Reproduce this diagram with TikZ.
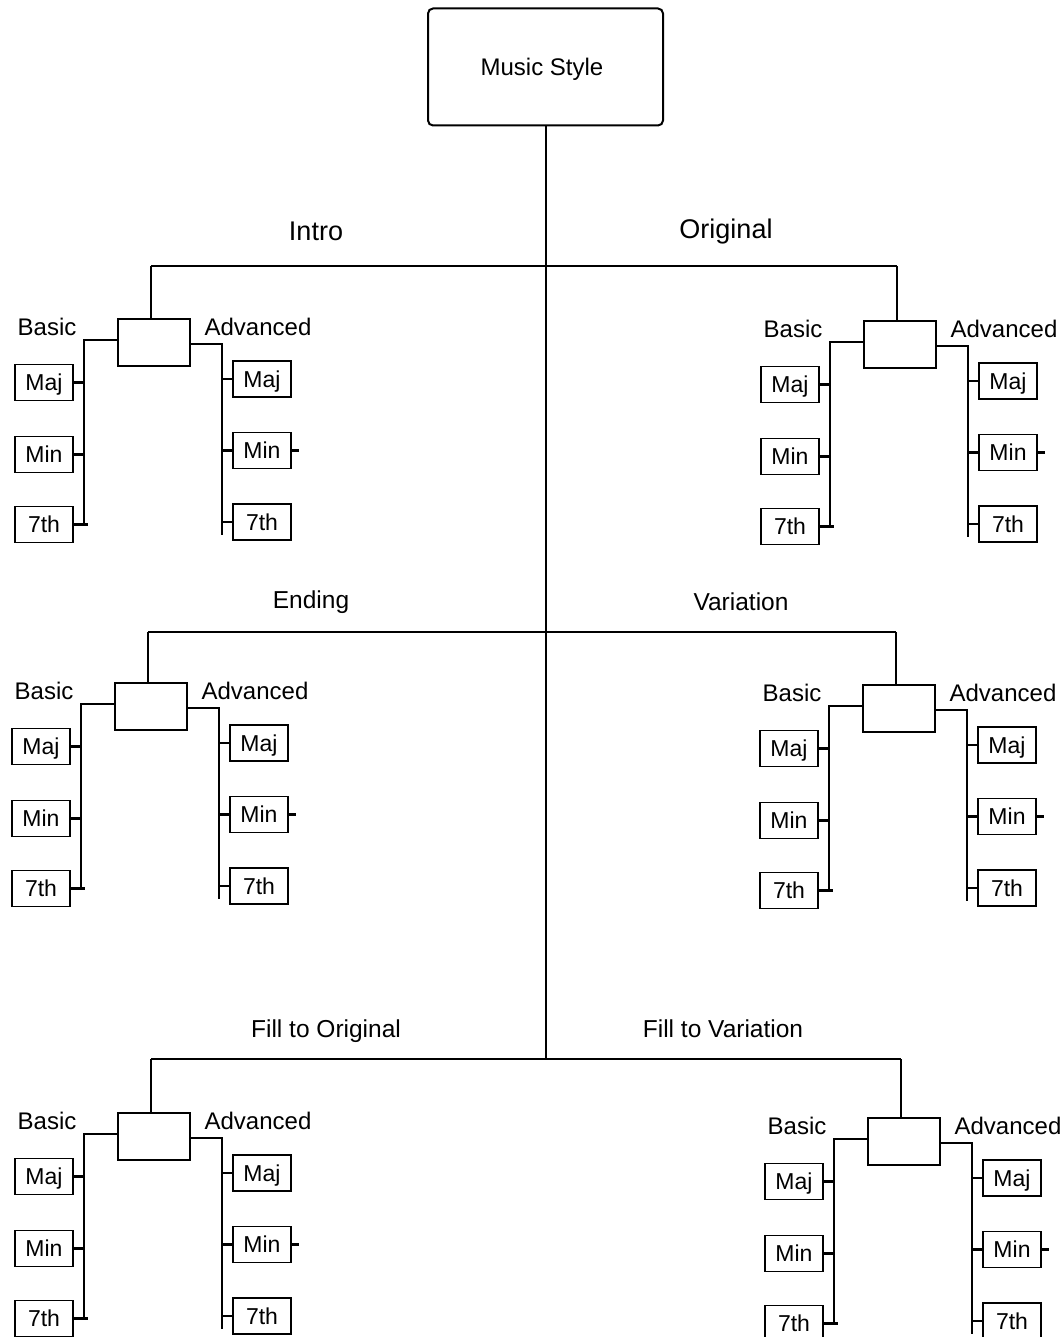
\documentclass[tikz,border=0pt]{standalone}
\usepackage{fontspec}
\setmainfont{Liberation Sans}
\begin{document}
\begin{tikzpicture}[x=1pt,y=-1pt,
  ln/.style={line width=2.2pt},
  cbox/.style={draw,line width=2pt,minimum width=72pt,minimum height=47pt,inner sep=0pt},
  sbox/.style={draw,line width=1.8pt,minimum width=58pt,minimum height=36pt,inner sep=0pt,text height=16.5pt,text depth=0pt,font=\fontsize{23}{27}\selectfont},
  lab/.style={inner sep=0pt,text height=17.2pt,text depth=0pt,font=\fontsize{24}{28}\selectfont},
  head/.style={inner sep=0pt,text height=17.6pt,text depth=0pt,font=\fontsize{24.5}{29}\selectfont},
  bighead/.style={inner sep=0pt,text height=19.4pt,text depth=0pt,font=\fontsize{27}{31}\selectfont}]
\useasboundingbox (0,0) rectangle (1062,1337);

% group macro: #1 name, #2 drop x, #3 box top y, #4 hline coordinate
\newcommand\grp[4]{%
  \node[cbox] (#1c) at (#2+3,#3+23.5) {};
  \draw[ln] (#4) -- (#1c.north -| #4);
  \node[lab] (#1b) at (#2-104,#3+8) {Basic};
  \node[lab] (#1a) at (#2+107,#3+8) {Advanced};
  \node[sbox] (#1lmaj) at (#2-107,#3+63.5) {Maj};
  \node[sbox] (#1lmin) at (#2-107,#3+135.5) {Min};
  \node[sbox] (#1lsev) at (#2-107,#3+205.5) {7th};
  \node[sbox] (#1rmaj) at (#2+111,#3+60) {Maj};
  \node[sbox] (#1rmin) at (#2+111,#3+131.5) {Min};
  \node[sbox] (#1rsev) at (#2+111,#3+203) {7th};
  \coordinate (#1lv) at (#2-67,#3+21);
  \coordinate (#1rv) at (#2+71,#3+25);
  \draw[ln] (#1c.west |- #1lv) -- (#1lv) -- (#1lv |- #1lsev.east);
  \draw[ln] (#1lmaj.east) -- (#1lmaj.east -| #1lv);
  \draw[ln] (#1lmin.east) -- (#1lmin.east -| #1lv);
  \draw[ln] (#1lsev.east) -- ([xshift=4pt]#1lsev.east -| #1lv);
  \draw[ln] (#1c.east |- #1rv) -- (#1rv) -- ([yshift=-13pt]#1rv |- #1rsev.west);
  \draw[ln] (#1rmaj.west) -- (#1rmaj.west -| #1rv);
  \draw[ln] (#1rmin.west) -- (#1rmin.west -| #1rv);
  \draw[ln] (#1rsev.west) -- (#1rsev.west -| #1rv);
  \draw[ln] (#1rmin.east) -- ++(7,0);
}

\node[draw,line width=2pt,rounded corners=5pt,minimum width=235pt,minimum height=117pt,inner sep=0pt] (top) at (545.5,67) {};
\node[inner sep=0pt,text height=17.2pt,text depth=0pt,font=\fontsize{24}{28}\selectfont] (toplab) at (542,67) {Music Style};

% horizontal branches
\coordinate (h1l) at (151,266); \coordinate (h1r) at (897,266);
\coordinate (h2l) at (148,632); \coordinate (h2r) at (896,632);
\coordinate (h3l) at (151,1059); \coordinate (h3r) at (901,1059);
\coordinate (mbot) at (546,1059);
\draw[ln] (top.south -| mbot) -- (mbot);
\draw[ln] (h1l) -- (h1r);
\draw[ln] (h2l) -- (h2r);
\draw[ln] (h3l) -- (h3r);

\node[bighead] (intro) at (316,231) {Intro};
\node[bighead] (orig) at (726,229) {Original};
\node[head] (ending) at (311,600) {Ending};
\node[head] (var) at (741,602) {Variation};
\node[head] (fo) at (326,1029) {Fill to Original};
\node[head] (fv) at (723,1029) {Fill to Variation};

\grp{I}{151}{319}{h1l}
\grp{O}{897}{321}{h1r}
\grp{E}{148}{683}{h2l}
\grp{V}{896}{685}{h2r}
\grp{F}{151}{1113}{h3l}
\grp{G}{901}{1118}{h3r}
\end{tikzpicture}
\end{document}
